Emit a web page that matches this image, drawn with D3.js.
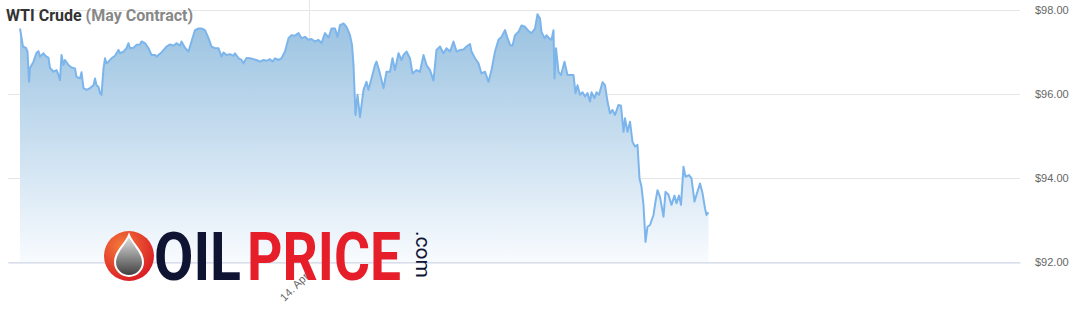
<!DOCTYPE html>
<html>
<head>
<meta charset="utf-8">
<script src="https://cdn.jsdelivr.net/npm/d3@7"></script>
<style>
  html, body { margin: 0; padding: 0; background: #fff; }
  svg { display: block; font-family: Roboto, "Liberation Sans", sans-serif; }
</style>
</head>
<body>
<svg id="chart" width="1084" height="318"></svg>
<script>
// minutes relative to 14 Apr 00:00, price in USD
const wti = [
  [-578, 97.56], [-572, 97.13], [-566, 97.10], [-563, 97.01], [-560, 96.29], [-558, 96.62], [-551, 96.77], [-545, 96.98], [-541, 97.02], [-538, 96.89],
  [-531, 96.97], [-527, 96.91], [-521, 96.86], [-518, 96.62], [-511, 96.53], [-505, 96.57], [-501, 96.45], [-498, 96.33], [-495, 96.93], [-491, 96.69],
  [-488, 96.81], [-481, 96.69], [-475, 96.63], [-468, 96.61], [-465, 96.41], [-458, 96.37], [-455, 96.52], [-451, 96.14], [-445, 96.10], [-438, 96.14],
  [-431, 96.21], [-428, 96.37], [-425, 96.21], [-421, 96.17], [-418, 96.02], [-415, 95.98], [-411, 96.61], [-408, 96.85], [-405, 96.73], [-401, 96.77],
  [-395, 96.85], [-388, 96.91], [-381, 97.05], [-378, 96.97], [-371, 97.01], [-365, 97.09], [-361, 97.21], [-358, 97.09], [-351, 97.10], [-345, 97.17],
  [-338, 97.18], [-335, 97.25], [-328, 97.21], [-321, 97.09], [-315, 96.93], [-308, 96.93], [-305, 96.89], [-295, 96.99], [-285, 97.13], [-278, 97.18],
  [-271, 97.15], [-265, 97.21], [-258, 97.15], [-255, 97.25], [-248, 97.10], [-241, 97.01], [-235, 97.25], [-228, 97.52], [-221, 97.56], [-215, 97.56],
  [-208, 97.52], [-201, 97.33], [-195, 97.13], [-188, 97.09], [-181, 97.09], [-175, 96.89], [-171, 96.99], [-165, 96.93], [-158, 96.95], [-151, 96.91],
  [-148, 96.97], [-141, 96.85], [-135, 96.81], [-131, 96.73], [-125, 96.86], [-118, 96.85], [-111, 96.83], [-105, 96.81], [-98, 96.77], [-91, 96.81],
  [-85, 96.79], [-78, 96.83], [-73, 96.77], [-68, 96.85], [-61, 96.81], [-55, 96.85], [-48, 97.01], [-41, 97.33], [-35, 97.40], [-28, 97.39],
  [-21, 97.45], [-15, 97.33], [-8, 97.36], [-1, 97.29], [5, 97.31], [12, 97.25], [19, 97.29], [25, 97.21], [32, 97.45], [39, 97.34],
  [45, 97.56], [52, 97.56], [57, 97.36], [62, 97.64], [69, 97.68], [75, 97.60], [82, 97.40], [86, 97.17], [89, 96.69], [93, 95.50],
  [97, 95.98], [102, 95.45], [109, 96.10], [115, 96.29], [119, 96.10], [125, 96.37], [132, 96.69], [135, 96.77], [141, 96.53], [149, 96.14],
  [155, 96.53], [162, 96.53], [167, 96.85], [172, 96.57], [179, 96.97], [185, 96.81], [189, 96.93], [195, 97.01], [202, 96.85], [207, 96.49],
  [215, 96.57], [222, 96.53], [229, 96.93], [235, 96.69], [242, 96.57], [249, 96.32], [255, 97.05], [262, 97.13], [269, 96.97], [275, 97.09],
  [282, 97.01], [289, 97.25], [295, 97.01], [302, 97.05], [309, 97.06], [315, 97.13], [322, 97.19], [325, 97.01], [332, 96.85], [339, 96.73],
  [345, 96.49], [352, 96.53], [359, 96.29], [365, 96.57], [372, 97.01], [379, 97.29], [385, 97.36], [392, 97.52], [397, 97.33], [402, 97.17],
  [407, 97.15], [412, 97.40], [419, 97.48], [425, 97.63], [432, 97.60], [439, 97.50], [445, 97.45], [452, 97.56], [457, 97.90], [462, 97.80],
  [465, 97.48], [471, 97.33], [475, 97.40], [480, 97.33], [485, 97.29], [489, 97.52], [491, 96.37], [494, 97.09], [499, 96.53], [504, 96.45],
  [511, 96.77], [517, 96.45], [524, 96.45], [529, 96.45], [533, 96.02], [537, 96.21], [542, 95.98], [547, 96.04], [552, 95.94], [557, 96.02],
  [562, 95.82], [565, 96.04], [571, 95.90], [575, 96.04], [580, 95.98], [587, 96.28], [592, 96.21], [597, 95.82], [602, 95.54], [607, 95.62],
  [612, 95.50], [619, 95.74], [624, 95.72], [629, 95.10], [632, 95.42], [637, 95.10], [642, 95.34], [647, 94.86], [652, 94.75], [657, 94.79],
  [661, 93.99], [665, 93.79], [669, 93.36], [673, 92.48], [677, 92.84], [682, 92.88], [689, 93.12], [693, 93.44], [697, 93.71], [702, 93.55],
  [709, 93.08], [713, 93.67], [719, 93.60], [725, 93.36], [731, 93.58], [735, 93.40], [740, 93.58], [744, 93.36], [749, 94.27], [753, 94.03],
  [760, 94.07], [765, 93.99], [771, 93.44], [775, 93.60], [782, 93.87], [787, 93.64], [792, 93.28], [795, 93.12], [799, 93.18]
];
const priceTicks = [92, 94, 96, 98];
const titleMain = "WTI Crude";
const titleSub = " (May Contract)";

const day = new Date(2022, 3, 14);
const toDate = m => new Date(day.getTime() + m * 60000);
const data = wti.map(d => ({ date: toDate(d[0]), price: d[1] }));

const plotLeft = 8, plotRight = 1020, plotTop = 10, plotBottom = 262;

const x = d3.scaleTime()
    .domain([toDate(-602), toDate(1422)])
    .range([plotLeft, plotRight]);

const y = d3.scaleLinear()
    .domain([92, 98])
    .range([plotBottom, plotTop]);

const svg = d3.select("#chart");

const defs = svg.append("defs");
const grad = defs.append("linearGradient")
    .attr("id", "areaFill")
    .attr("gradientUnits", "userSpaceOnUse")
    .attr("x1", 0).attr("y1", plotTop)
    .attr("x2", 0).attr("y2", plotBottom);
grad.append("stop").attr("offset", 0).attr("stop-color", "rgb(150,192,224)");
grad.append("stop").attr("offset", 1).attr("stop-color", "rgb(248,251,254)");

// horizontal grid + right labels
const yAxis = svg.append("g")
    .attr("transform", `translate(${plotRight},0)`)
    .call(d3.axisRight(y).tickValues(priceTicks).tickSize(-(plotRight - plotLeft)).tickPadding(15)
        .tickFormat(d => "$" + d.toFixed(2)));
yAxis.select(".domain").remove();
yAxis.selectAll("line").attr("stroke", "#e6e6e6");
yAxis.selectAll("text")
    .attr("fill", "#666")
    .style("font-size", "11px")
    .attr("dy", "0.32em");

// vertical day grid
svg.append("g").selectAll("line")
    .data(x.ticks(d3.timeDay.every(1)))
    .join("line")
    .attr("x1", d => Math.round(x(d)) + 0.5)
    .attr("x2", d => Math.round(x(d)) + 0.5)
    .attr("y1", 0)
    .attr("y2", plotBottom)
    .attr("stroke", "#e6e6e6");

// area + line
svg.append("path")
    .datum(data)
    .attr("fill", "url(#areaFill)")
    .attr("d", d3.area().x(d => x(d.date)).y0(plotBottom).y1(d => y(d.price)));

svg.append("path")
    .datum(data)
    .attr("fill", "none")
    .attr("stroke", "#7cb5ec")
    .attr("stroke-width", 2)
    .attr("stroke-linejoin", "round")
    .attr("d", d3.line().x(d => x(d.date)).y(d => y(d.price)));

// x axis
const xAxis = svg.append("g")
    .attr("transform", `translate(0,${plotBottom + 0.5})`)
    .call(d3.axisBottom(x).ticks(d3.timeDay.every(1)).tickSize(0)
        .tickFormat(d3.timeFormat("%-d. %b")));
xAxis.select(".domain").attr("stroke", "#ccd6eb");
xAxis.selectAll("text")
    .attr("fill", "#666")
    .style("font-size", "11px")
    .attr("text-anchor", "end")
    .attr("x", 0).attr("y", 0).attr("dy", "0.35em")
    .attr("transform", "translate(-3,12) rotate(-45)");

// title
const title = svg.append("text")
    .attr("x", 6)
    .attr("y", 21)
    .style("font-size", "16px")
    .style("font-weight", "bold");
title.append("tspan").attr("fill", "#333").text(titleMain);
title.append("tspan").attr("fill", "#888").text(titleSub);

// logo
const logo = svg.append("g");
const red = defs.append("radialGradient").attr("id", "logoRed")
    .attr("cx", "35%").attr("cy", "30%").attr("r", "75%");
red.append("stop").attr("offset", 0).attr("stop-color", "#f47a3a");
red.append("stop").attr("offset", 1).attr("stop-color", "#d91c24");
const drop = defs.append("linearGradient").attr("id", "logoDrop")
    .attr("x1", 0).attr("y1", 0).attr("x2", 0).attr("y2", 1);
drop.append("stop").attr("offset", 0).attr("stop-color", "#e8e8e8");
drop.append("stop").attr("offset", 1).attr("stop-color", "#3c3c3c");

logo.append("circle").attr("cx", 129).attr("cy", 256).attr("r", 25).attr("fill", "url(#logoRed)");
logo.append("path")
    .attr("d", "M129,235 C133,245 143,251 143,262 A14,14 0 1,1 115,262 C115,251 125,245 129,235 Z")
    .attr("fill", "url(#logoDrop)")
    .attr("stroke", "#fff")
    .attr("stroke-width", 2);

logo.append("text")
    .attr("x", 154).attr("y", 280)
    .attr("textLength", 87).attr("lengthAdjust", "spacingAndGlyphs")
    .attr("fill", "#0f1433")
    .style("font-size", "66px").style("font-weight", "bold")
    .text("OIL");
logo.append("text")
    .attr("x", 247).attr("y", 280)
    .attr("textLength", 154).attr("lengthAdjust", "spacingAndGlyphs")
    .attr("fill", "#e61e2a")
    .style("font-size", "66px").style("font-weight", "bold")
    .text("PRICE");
logo.append("text")
    .attr("transform", "translate(416,231) rotate(90)")
    .attr("fill", "#0f1433")
    .style("font-size", "21px")
    .text(".com");
</script>
</body>
</html>
